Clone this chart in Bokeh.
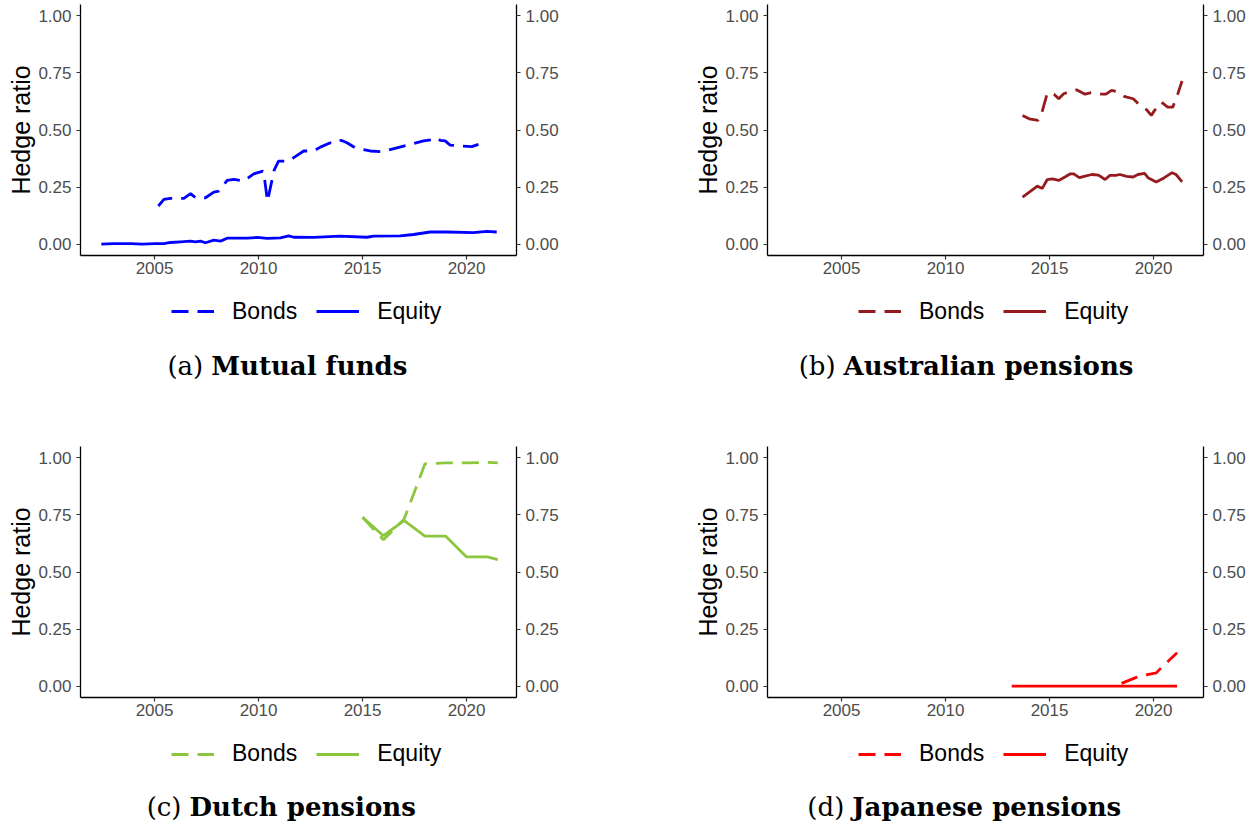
import numpy as np
from bokeh.plotting import figure
from bokeh.models import Range1d, LinearAxis, Legend, LegendItem, Label, FixedTicker, PrintfTickFormatter
from bokeh.layouts import gridplot
from bokeh.embed import file_html
from bokeh.resources import INLINE

# ---------------- data ----------------
x_ticks = [2005, 2010, 2015, 2020]
y_ticks = [0.0, 0.25, 0.5, 0.75, 1.0]
series_labels = ["Bonds", "Equity"]

# (a) Mutual funds
mf_bond_year = [2005.18, 2005.45, 2005.77, 2006.41, 2006.73, 2006.97, 2007.45, 2007.85, 2008.09,
                2008.49, 2008.81, 2009.29, 2009.77, 2010.21, 2010.27, 2010.43, 2010.56, 2010.75,
                2010.96, 2011.45, 2011.69, 2012.17, 2012.65, 2012.97, 2013.45, 2013.77, 2013.97,
                2014.25, 2014.65, 2015.37, 2015.93, 2016.65, 2017.29, 2017.93, 2018.41, 2018.53,
                2018.73, 2018.97, 2019.21, 2019.69, 2020.25, 2020.57]
mf_bond_val = [0.167, 0.196, 0.200, 0.200, 0.221, 0.203, 0.203, 0.228, 0.232,
               0.279, 0.284, 0.276, 0.308, 0.320, 0.298, 0.188, 0.244, 0.324,
               0.364, 0.364, 0.379, 0.408, 0.408, 0.425, 0.444, 0.444, 0.455,
               0.444, 0.422, 0.408, 0.405, 0.422, 0.437, 0.452, 0.458, 0.466,
               0.455, 0.452, 0.434, 0.430, 0.427, 0.437]
mf_eq_year = [2002.44, 2003.00, 2003.85, 2004.41, 2005.00, 2005.45, 2005.77, 2006.25, 2006.73,
              2006.97, 2007.21, 2007.45, 2007.85, 2008.17, 2008.49, 2009.45, 2009.93, 2010.41,
              2011.05, 2011.45, 2011.69, 2012.65, 2013.93, 2015.21, 2015.53, 2016.81, 2017.45,
              2018.25, 2019.05, 2020.33, 2020.97, 2021.45]
mf_eq_val = [0.000, 0.002, 0.002, 0.000, 0.002, 0.002, 0.007, 0.010, 0.013,
             0.010, 0.013, 0.006, 0.017, 0.013, 0.026, 0.026, 0.029, 0.025,
             0.027, 0.036, 0.030, 0.029, 0.035, 0.030, 0.035, 0.036, 0.042,
             0.053, 0.053, 0.050, 0.056, 0.053]

# (b) Australian pensions
au_bond_year = [2013.70, 2014.02, 2014.45, 2014.65, 2014.89, 2015.21, 2015.44, 2015.68, 2015.92,
                2016.29, 2016.71, 2017.03, 2017.51, 2017.71, 2017.98, 2018.22, 2018.62, 2019.02,
                2019.21, 2019.49, 2019.65, 2019.89, 2020.05, 2020.37, 2020.68, 2020.92, 2021.16,
                2021.37]
au_bond_val = [0.564, 0.549, 0.542, 0.583, 0.661, 0.657, 0.637, 0.659, 0.667,
               0.676, 0.657, 0.664, 0.657, 0.657, 0.674, 0.668, 0.646, 0.637,
               0.620, 0.598, 0.590, 0.564, 0.586, 0.622, 0.600, 0.600, 0.657,
               0.715]
au_eq_year = [2013.70, 2014.06, 2014.41, 2014.65, 2014.89, 2015.13, 2015.44, 2015.76, 2016.00,
              2016.16, 2016.43, 2016.71, 2017.03, 2017.35, 2017.67, 2017.90, 2018.19, 2018.38,
              2018.70, 2019.02, 2019.25, 2019.57, 2019.73, 2020.13, 2020.52, 2020.89, 2021.08,
              2021.37]
au_eq_val = [0.206, 0.230, 0.254, 0.244, 0.283, 0.286, 0.279, 0.295, 0.308,
             0.308, 0.291, 0.298, 0.305, 0.302, 0.283, 0.301, 0.301, 0.305,
             0.297, 0.294, 0.305, 0.310, 0.291, 0.272, 0.291, 0.313, 0.305,
             0.273]

# (c) Dutch pensions
nl_bond_year = [2015.0, 2016.0, 2017.0, 2018.0, 2019.0, 2020.0, 2021.0, 2021.5]
nl_bond_val = [0.740, 0.641, 0.732, 0.974, 0.978, 0.978, 0.981, 0.978]
nl_eq_year = [2015.0, 2016.0, 2017.0, 2018.0, 2019.0, 2020.0, 2021.0, 2021.5]
nl_eq_val = [0.740, 0.659, 0.725, 0.657, 0.657, 0.566, 0.566, 0.554]

# (d) Japanese pensions
jp_bond_year = [2018.46, 2019.17, 2019.65, 2020.13, 2020.44, 2020.76, 2021.13]
jp_bond_val = [0.012, 0.038, 0.049, 0.058, 0.087, 0.114, 0.146]
jp_eq_year = [2013.18, 2015.0, 2017.0, 2019.0, 2021.13]
jp_eq_val = [0.0, 0.0, 0.0, 0.0, 0.0]

FRAME_W = 436
FRAME_H = 251
LEFT_B = 80
BOTTOM_B = 30
LEFT_COL_W = 687
RIGHT_COL_W = 566
LINE_W = 2.8
DASH = "17 9"


def make_panel(right_border, bx, by, ex, ey, color):
    p = figure(frame_width=FRAME_W, frame_height=FRAME_H,
               x_range=Range1d(2001.44, 2022.40), y_range=Range1d(-0.05, 1.05),
               output_backend="svg", toolbar_location=None,
               min_border_left=LEFT_B, min_border_right=right_border,
               min_border_top=4, min_border_bottom=BOTTOM_B)
    p.outline_line_color = None
    p.xgrid.visible = False
    p.ygrid.visible = False

    p.line(bx, by, line_color=color, line_width=LINE_W, line_dash=DASH)
    p.line(ex, ey, line_color=color, line_width=LINE_W)

    right = LinearAxis()
    p.add_layout(right, "right")

    p.xaxis.ticker = FixedTicker(ticks=x_ticks)
    for ax in [p.yaxis[0], right]:
        ax.ticker = FixedTicker(ticks=y_ticks)
        ax.formatter = PrintfTickFormatter(format="%.2f")
    for ax in [p.xaxis[0], p.yaxis[0], right]:
        ax.axis_line_color = "black"
        ax.axis_line_width = 1.3
        ax.major_tick_line_color = "#333333"
        ax.major_tick_line_width = 1.2
        ax.major_tick_out = 4
        ax.major_tick_in = 0
        ax.minor_tick_line_color = None
        ax.major_label_text_font = "Liberation Sans"
        ax.major_label_text_font_size = "17px"
        ax.major_label_text_color = "#4D4D4D"
        ax.major_label_standoff = 5
    p.xaxis[0].major_label_standoff = 2
    p.yaxis[0].axis_label = "Hedge ratio"
    p.yaxis[0].axis_label_text_font = "Liberation Sans"
    p.yaxis[0].axis_label_text_font_size = "25px"
    p.yaxis[0].axis_label_text_font_style = "normal"
    p.yaxis[0].axis_label_text_color = "black"
    p.yaxis[0].axis_label_standoff = 0
    return p


def make_caption(width, height, color, letter, name, split_x, cap_y, leg_y):
    c = figure(width=width, height=height, x_range=Range1d(0, 1), y_range=Range1d(0, 1),
               output_backend="svg", toolbar_location=None,
               x_axis_location=None, y_axis_location=None,
               min_border=0)
    c.outline_line_color = None
    c.xgrid.visible = False
    c.ygrid.visible = False
    c.add_layout(Label(x=split_x - 4, y=cap_y, x_units="screen", y_units="screen",
                       text="(" + letter + ")", text_align="right", text_baseline="middle",
                       text_font="DejaVu Serif", text_font_size="26px", text_color="black"))
    c.add_layout(Label(x=split_x + 4, y=cap_y, x_units="screen", y_units="screen",
                       text=name, text_align="left", text_baseline="middle",
                       text_font="DejaVu Serif", text_font_style="bold",
                       text_font_size="26px", text_color="black"))
    # legend keys (same styles as the chart's lines; no visible data here)
    nan_pt = np.array([np.nan])
    kb = c.line(nan_pt, nan_pt, line_color=color, line_width=LINE_W, line_dash=DASH)
    ke = c.line(nan_pt, nan_pt, line_color=color, line_width=LINE_W)
    legend = Legend(items=[LegendItem(label=series_labels[0], renderers=[kb]),
                           LegendItem(label=series_labels[1], renderers=[ke])],
                    orientation="horizontal", location=(91, leg_y),
                    glyph_width=43, glyph_height=26, label_height=26,
                    label_standoff=18, spacing=19, padding=0,
                    border_line_color=None, background_fill_color=None,
                    label_text_font="Liberation Sans", label_text_font_size="23px",
                    label_text_color="black")
    c.add_layout(legend)
    return c


pa = make_panel(LEFT_COL_W - LEFT_B - FRAME_W, mf_bond_year, mf_bond_val, mf_eq_year, mf_eq_val, "#0000FF")
pb = make_panel(RIGHT_COL_W - LEFT_B - FRAME_W, au_bond_year, au_bond_val, au_eq_year, au_eq_val, "#961B1E")
pc = make_panel(LEFT_COL_W - LEFT_B - FRAME_W, nl_bond_year, nl_bond_val, nl_eq_year, nl_eq_val, "#8CC63E")
pd_ = make_panel(RIGHT_COL_W - LEFT_B - FRAME_W, jp_bond_year, jp_bond_val, jp_eq_year, jp_eq_val, "#FF0000")

top_cap_h = 157
bot_cap_h = 99
ca = make_caption(LEFT_COL_W, top_cap_h, "#0000FF", "a", "Mutual funds", 126.7, top_cap_h - 80.5, top_cap_h - 26.7 - 13)
cb = make_caption(RIGHT_COL_W, top_cap_h, "#961B1E", "b", "Australian pensions", 72.1, top_cap_h - 80.5, top_cap_h - 26.7 - 13)
cc = make_caption(LEFT_COL_W, bot_cap_h, "#8CC63E", "c", "Dutch pensions", 105.0, bot_cap_h - 79, bot_cap_h - 27 - 13)
cd = make_caption(RIGHT_COL_W, bot_cap_h, "#FF0000", "d", "Japanese pensions", 80.8, bot_cap_h - 79, bot_cap_h - 27 - 13)

grid = gridplot([[pa, pb], [ca, cb], [pc, pd_], [cc, cd]], toolbar_location=None)

open("out.html", "w").write(file_html(grid, INLINE))
